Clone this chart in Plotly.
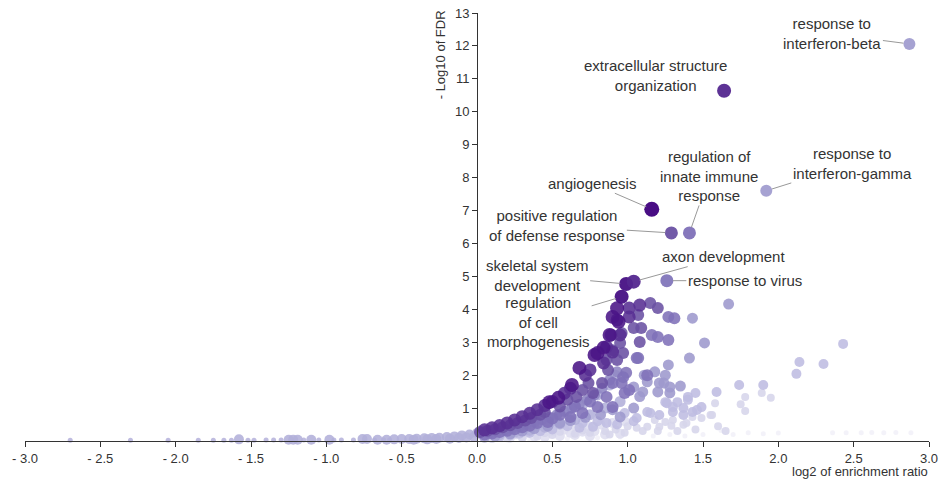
import plotly.graph_objects as go

# ---------------- axis ticks ----------------
x_ticks = [-3.0, -2.5, -2.0, -1.5, -1.0, -0.5, 0.0, 0.5, 1.0, 1.5, 2.0, 2.5, 3.0]
x_tick_labels = ["- 3.0", "- 2.5", "- 2.0", "- 1.5", "- 1.0", "- 0.5", "0.0",
                 "0.5", "1.0", "1.5", "2.0", "2.5", "3.0"]
y_ticks = [1, 2, 3, 4, 5, 6, 7, 8, 9, 10, 11, 12, 13]
y_tick_labels = ["1", "2", "3", "4", "5", "6", "7", "8", "9", "10", "11", "12", "13"]

# ---------------- labelled gene-set terms ----------------
terms = ["response to<br>interferon-beta", "extracellular structure<br>organization",
         "regulation of<br>innate immune<br>response", "response to<br>interferon-gamma",
         "angiogenesis", "positive regulation<br>of defense response",
         "skeletal system<br>development", "regulation<br>of cell<br>morphogenesis",
         "axon development", "response to virus"]
term_x = [2.87, 1.64, 1.41, 1.92, 1.16, 1.29, 0.99, 0.96, 1.04, 1.26]
term_y = [12.06, 10.64, 6.32, 7.60, 7.04, 6.32, 4.77, 4.38, 4.84, 4.87]
term_shade = [0.5, 0.9, 0.68, 0.5, 1.0, 0.8, 0.96, 0.96, 0.9, 0.66]
term_size = [12, 14, 13, 12, 15, 13, 14, 14, 14, 13]

# ---------------- unlabelled terms, grouped by shade tier ----------------
neg_small_x = [-2.7, -2.3, -2.05, -1.85, -1.75, -1.68, -1.63, -1.52, -1.48, -1.4,
               -1.35, -1.3, -1.15, -1.05, -0.95, -0.9, -0.82, -0.68, -0.62, -0.58]
neg_small_y = [0.02, 0.02, 0.02, 0.02, 0.02, 0.02, 0.02, 0.02, 0.02, 0.03,
               0.03, 0.03, 0.03, 0.03, 0.03, 0.03, 0.03, 0.03, 0.04, 0.04]

neg_big_x = [-1.58, -1.25, -1.22, -1.19, -1.1, -0.98, -0.76, -0.73, -0.55, -0.5,
             -0.45, -0.4, -0.35, -0.3, -0.25, -0.2, -0.15, -0.1, -0.05, 0.0,
             -0.42, -0.33, -0.27, -0.18, -0.12, -0.07, -0.02, -0.6, -0.66]
neg_big_y = [0.05, 0.04, 0.04, 0.04, 0.04, 0.04, 0.06, 0.06, 0.05, 0.06,
             0.06, 0.07, 0.08, 0.09, 0.1, 0.12, 0.14, 0.17, 0.2, 0.24,
             0.04, 0.05, 0.06, 0.07, 0.09, 0.11, 0.13, 0.04, 0.04]

faint_x = [2.36, 2.45, 2.55, 2.62, 2.7, 2.78, 2.88, 1.7, 1.8, 1.5, 1.38, 1.28,
           1.17, 0.95, 0.8, 0.6, 0.35, 1.62, 1.9, 2.0]
faint_y = [0.25, 0.25, 0.25, 0.26, 0.25, 0.26, 0.25, 0.2, 0.25, 0.2, 0.15, 0.2,
           0.15, 0.12, 0.1, 0.08, 0.05, 0.32, 0.22, 0.24]

band_lo_x = [0.1, 0.18, 0.26, 0.34, 0.42, 0.5, 0.58, 0.66, 0.74, 0.82, 0.9, 0.98,
             0.45, 0.55, 0.65, 0.75, 0.85, 0.95, 0.22, 0.3, 0.38, 0.62, 0.7, 0.78]
band_lo_y = [0.12, 0.15, 0.2, 0.24, 0.28, 0.3, 0.35, 0.4, 0.45, 0.5, 0.55, 0.6,
             0.12, 0.15, 0.18, 0.15, 0.2, 0.22, 0.1, 0.12, 0.14, 0.25, 0.28, 0.3]

light_x = [1.89, 1.78, 1.95, 1.58, 1.75, 1.78, 1.56, 1.49, 1.55, 1.43, 1.18, 1.25,
           1.30, 1.37, 1.21, 1.13, 1.29, 1.39, 1.0, 1.06, 0.92, 0.85, 0.75, 0.65,
           0.5, 0.4, 0.3, 0.2, 0.1, 1.1, 1.2, 1.33, 1.45, 1.6, 1.65, 0.55, 0.7,
           0.88, 0.98, 0.45, 0.25, 0.15]
light_y = [1.46, 1.34, 1.31, 1.15, 1.12, 0.91, 0.79, 0.70, 0.79, 0.73, 0.64, 0.58,
           0.64, 0.49, 0.43, 0.43, 0.46, 0.55, 0.45, 0.4, 0.35, 0.3, 0.25, 0.22,
           0.18, 0.14, 0.1, 0.08, 0.06, 0.3, 0.3, 0.3, 0.35, 0.45, 0.3, 0.28, 0.32,
           0.2, 0.25, 0.24, 0.18, 0.12]

pale_x = [1.45, 1.40, 1.59, 1.74, 1.90, 1.33, 1.26, 1.49, 1.43, 1.30, 1.37, 1.21,
          1.15, 1.40, 1.37, 1.25, 1.30, 1.46, 2.14, 2.30, 2.43, 2.12, 1.13, 1.06,
          0.98, 0.86, 0.77, 0.68, 0.60, 0.50, 0.42, 0.35, 0.28, 0.22, 0.15, 1.04,
          0.93, 0.80, 0.70]
pale_y = [1.46, 1.34, 1.49, 1.70, 1.70, 1.18, 1.15, 1.03, 0.88, 0.88, 0.79, 0.79,
          0.85, 1.25, 1.0, 1.18, 1.03, 0.94, 2.40, 2.34, 2.95, 2.04, 0.88, 0.70,
          0.85, 0.55, 0.43, 0.40, 0.45, 0.35, 0.3, 0.25, 0.22, 0.17, 0.13, 0.6,
          0.5, 0.6, 0.55]

band_mid_x = [0.15, 0.25, 0.35, 0.45, 0.55, 0.65, 0.75, 0.85, 0.95, 0.6, 0.7, 0.8,
              0.88, 0.92, 0.2, 0.3, 0.4, 0.5]
band_mid_y = [0.2, 0.27, 0.33, 0.42, 0.52, 0.65, 0.8, 1.0, 1.2, 0.9, 1.1, 1.4,
              1.7, 2.0, 0.3, 0.4, 0.5, 0.62]

mid_x = [1.43, 1.51, 1.41, 1.27, 1.18, 1.11, 1.25, 1.24, 1.35, 1.10, 1.20, 1.28,
         1.04, 1.13, 1.08, 1.04, 0.95, 1.21, 1.28, 1.67, 0.90, 0.82, 0.72, 0.62,
         0.55, 0.47, 0.38, 0.30, 0.22, 0.12, 0.05]
mid_y = [3.73, 2.98, 2.52, 2.31, 2.10, 2.0, 2.0, 1.76, 1.67, 1.49, 1.49, 1.46,
         1.64, 1.8, 1.35, 1.0, 0.73, 1.76, 1.64, 4.16, 0.95, 0.8, 0.72, 0.62,
         0.55, 0.45, 0.38, 0.3, 0.22, 0.15, 0.12]

band_hi_x = [0.08, 0.13, 0.18, 0.23, 0.28, 0.33, 0.38, 0.43, 0.48, 0.53, 0.58, 0.63,
             0.68, 0.73, 0.78, 0.83, 0.88, 0.93]
band_hi_y = [0.24, 0.28, 0.33, 0.38, 0.44, 0.5, 0.57, 0.65, 0.72, 0.8, 0.9, 1.0,
             1.12, 1.25, 1.4, 1.6, 1.85, 2.1]

medium_x = [1.27, 1.31, 1.16, 1.20, 1.27, 1.06, 0.99, 0.96, 0.86, 0.98, 1.13, 1.07,
            0.97, 0.90, 1.01, 0.80, 0.90, 0.70, 0.62, 0.75, 0.65, 0.55, 0.50, 0.47,
            0.40, 0.35, 0.30, 0.25, 0.20, 0.15, 0.10, 0.05]
medium_y = [3.77, 3.73, 3.22, 3.16, 3.07, 2.52, 2.07, 1.76, 1.34, 1.46, 2.0, 2.52,
            1.94, 1.76, 1.55, 1.03, 1.03, 0.85, 0.73, 1.2, 1.05, 0.8, 0.68, 0.58,
            0.55, 0.46, 0.42, 0.36, 0.31, 0.27, 0.23, 0.2]

deep_x = [1.15, 1.20, 1.07, 1.04, 1.09, 0.97, 0.87, 0.83, 0.74, 0.66, 1.08, 0.96,
          0.95, 0.90, 0.86, 0.93, 0.77, 0.60, 0.70, 0.55, 0.45, 0.42, 0.36, 0.32,
          0.27, 0.22, 0.17, 0.12, 0.07, 0.02]
deep_y = [4.19, 4.04, 3.83, 3.43, 3.43, 2.67, 2.16, 1.76, 1.76, 1.34, 3.01, 3.28,
          2.98, 2.76, 2.46, 2.46, 1.46, 1.25, 1.55, 1.05, 0.88, 0.8, 0.7, 0.62,
          0.55, 0.48, 0.42, 0.36, 0.31, 0.27]

dark_x = [1.01, 1.08, 0.95, 1.01, 0.90, 0.75, 0.84, 0.62, 0.50, 0.58, 0.72, 0.40,
          0.35, 0.30, 0.25, 0.20, 0.15, 0.10, 0.05, 0.86, 0.89, 0.93, 0.45]
dark_y = [4.04, 4.13, 3.22, 3.77, 2.70, 2.16, 2.37, 1.60, 1.2, 1.45, 2.0, 0.95,
          0.84, 0.74, 0.64, 0.55, 0.47, 0.4, 0.34, 2.86, 3.22, 3.68, 1.08]

darkest_x = [0.93, 0.90, 0.94, 0.88, 0.84, 0.78, 0.68, 0.63, 0.54, 0.80, 0.48]
darkest_y = [4.03, 3.77, 3.62, 3.22, 2.83, 2.61, 2.22, 1.70, 1.31, 2.67, 1.18]

# (x list, y list, shade 0-1, marker diameter)
tiers = [
    (neg_small_x, neg_small_y, 0.4, 5),
    (neg_big_x, neg_big_y, 0.42, 10),
    (faint_x, faint_y, 0.0, 5),
    (band_lo_x, band_lo_y, 0.14, 10),
    (light_x, light_y, 0.2, 8),
    (pale_x, pale_y, 0.36, 10),
    (band_mid_x, band_mid_y, 0.42, 11),
    (mid_x, mid_y, 0.52, 11),
    (band_hi_x, band_hi_y, 0.6, 11),
    (medium_x, medium_y, 0.68, 12),
    (deep_x, deep_y, 0.8, 12),
    (dark_x, dark_y, 0.88, 13),
    (darkest_x, darkest_y, 0.95, 14),
]

purples = [[0.0, "#f1f0f8"], [0.15, "#dddcee"], [0.35, "#c0bee2"], [0.5, "#a19dd0"],
           [0.65, "#8479bd"], [0.8, "#6a51a3"], [0.9, "#54278f"], [1.0, "#3f007d"]]

FONT = "Liberation Sans, Arial, sans-serif"

fig = go.Figure()
for tx, ty, shade, sz in tiers:
    fig.add_trace(go.Scatter(
        x=tx, y=ty, mode="markers", cliponaxis=False, hoverinfo="x+y",
        marker=dict(size=sz, color=[shade] * len(tx), colorscale=purples,
                    cmin=0, cmax=1, opacity=0.88, line=dict(width=0)),
        showlegend=False))

fig.add_trace(go.Scatter(
    x=term_x, y=term_y, mode="markers", cliponaxis=False, text=terms,
    hoverinfo="text",
    marker=dict(size=term_size, color=term_shade, colorscale=purples, cmin=0, cmax=1,
                opacity=0.95, line=dict(width=0)),
    showlegend=False))

# label offsets (pixels, text centre relative to point)
offsets = [(-77, -10), (-69, -15), (20, -57), (86, -27), (-60, -26),
           (-114, -7), (-89, -8), (-83, 25), (90, -25), (78, 0)]
annotations = []
for t, xv, yv, (ax, ay) in zip(terms, term_x, term_y, offsets):
    annotations.append(dict(
        x=xv, y=yv, xref="x", yref="y", text=t, showarrow=True, arrowhead=0,
        arrowwidth=1, arrowcolor="#999999", ax=ax, ay=ay, standoff=6,
        font=dict(family=FONT, size=15, color="#333333"), align="center"))

annotations.append(dict(
    text="- Log10 of FDR", xref="paper", yref="paper", x=0.459, y=1.012,
    xanchor="center", yanchor="top", textangle=-90, showarrow=False,
    font=dict(family=FONT, size=13, color="#333333")))
annotations.append(dict(
    text="log2 of enrichment ratio", xref="paper", yref="paper", x=1.001, y=-0.071,
    xanchor="right", yanchor="middle", showarrow=False,
    font=dict(family=FONT, size=13, color="#333333")))

fig.update_layout(
    width=948, height=483,
    margin=dict(l=25, r=19, t=13, b=42, autoexpand=False),
    paper_bgcolor="white", plot_bgcolor="white",
    font=dict(family=FONT, size=13, color="#333333"),
    xaxis=dict(range=[-3, 3], tickvals=x_ticks, ticktext=x_tick_labels,
               showline=True, linecolor="#333333", linewidth=1, ticks="outside",
               ticklen=5, tickcolor="#333333", showgrid=False, zeroline=False,
               domain=[0, 1], fixedrange=True, automargin=False),
    yaxis=dict(range=[0, 13], tickvals=y_ticks, ticktext=y_tick_labels,
               anchor="free", position=0.5, side="left",
               showline=True, linecolor="#333333", linewidth=1, ticks="outside",
               ticklen=5, tickcolor="#333333", showgrid=False, zeroline=False,
               fixedrange=True, automargin=False),
    annotations=annotations,
)

fig.write_html("out.html", config={"displayModeBar": False},
               post_script="document.body.style.margin='0';")
